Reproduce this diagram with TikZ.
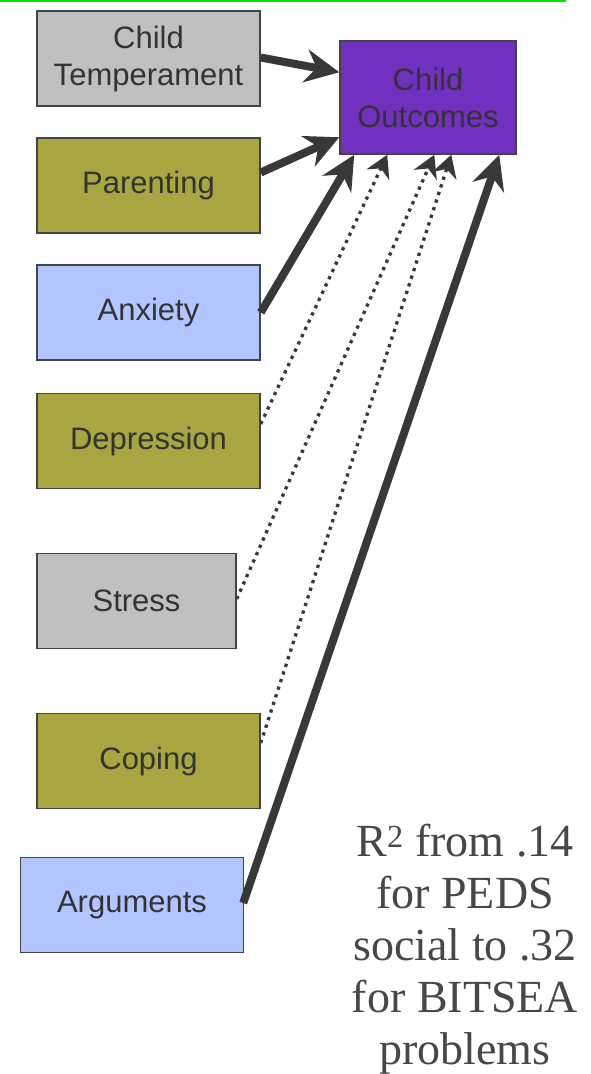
\documentclass[tikz,border=0pt]{standalone}
\usepackage{fontspec}
\setmainfont{Liberation Serif}
\setsansfont{Liberation Sans}
\usetikzlibrary{arrows.meta,calc}
\definecolor{boxgray}{HTML}{C0C0C0}
\definecolor{boxolive}{HTML}{A9A641}
\definecolor{boxblue}{HTML}{B3C5FF}
\definecolor{boxpurple}{HTML}{7230C0}
\definecolor{edge}{HTML}{444444}
\definecolor{txt}{HTML}{333333}
\definecolor{arr}{HTML}{383838}
\definecolor{topgreen}{HTML}{00E600}
\begin{document}
\begin{tikzpicture}[x=1pt,y=-1pt,
  box/.style={draw=edge,line width=1.5pt,minimum width=223pt,minimum height=95pt,
    inner sep=0pt,align=center,text=txt,font=\sffamily\fontsize{31}{37}\selectfont},
  strong/.style={draw=arr,line width=8pt,-{Stealth[length=34pt,width=33pt,inset=11pt]}},
  weak/.style={draw=arr,line width=3.3pt,dash pattern=on 3.3pt off 4.7pt,
    -{Stealth[length=22pt,width=25pt,inset=7pt]}}]
\useasboundingbox (0,0) rectangle (590,1074);
\coordinate (gl) at (0,1);
\coordinate (gr) at (566,1);
\draw[topgreen,line width=2pt] (gl) -- (gr);
\node[box,fill=boxgray] (tem) at (148.5,58.5) {Child\\Temperament};
\node[box,fill=boxpurple,minimum width=176pt,minimum height=113pt] (out) at (428,97.5) {Child\\Outcomes};
\node[box,fill=boxolive] (par) at (148.5,185.5) {Parenting};
\node[box,fill=boxblue] (anx) at (148.5,312.5) {Anxiety};
\node[box,fill=boxolive] (dep) at (148.5,441) {Depression};
\node[box,fill=boxgray,minimum width=199pt] (str) at (136.5,601) {Stress};
\node[box,fill=boxolive] (cop) at (148.5,761) {Coping};
\node[box,fill=boxblue] (arg) at (132,905) {Arguments};
\node[font=\fontsize{46}{52}\selectfont,text=txt!90,align=center,inner sep=0pt] (r2) at (465,949)
  {R\textsuperscript{2} from .14\\for PEDS\\social to .32\\for BITSEA\\problems};
\draw[strong] ($(tem.east)+(0,-1)$) -- ($(out.north west)+(0,32)$);
\draw[strong] ($(par.east)+(0,-13)$) -- ($(out.north west)+(0,97)$);
\draw[strong] (anx.east) -- ($(out.south west)+(15,0)$);
\draw[weak] ($(dep.east)+(0,-17)$) -- ($(out.south west)+(48,0)$);
\draw[weak] ($(str.east)+(0,-2)$) -- ($(out.south west)+(95,0)$);
\draw[weak] ($(cop.east)+(0,-18)$) -- ($(out.south west)+(112,0)$);
\draw[strong] ($(arg.east)+(-1,-2)$) -- ($(out.south west)+(160,0)$);
\end{tikzpicture}
\end{document}
